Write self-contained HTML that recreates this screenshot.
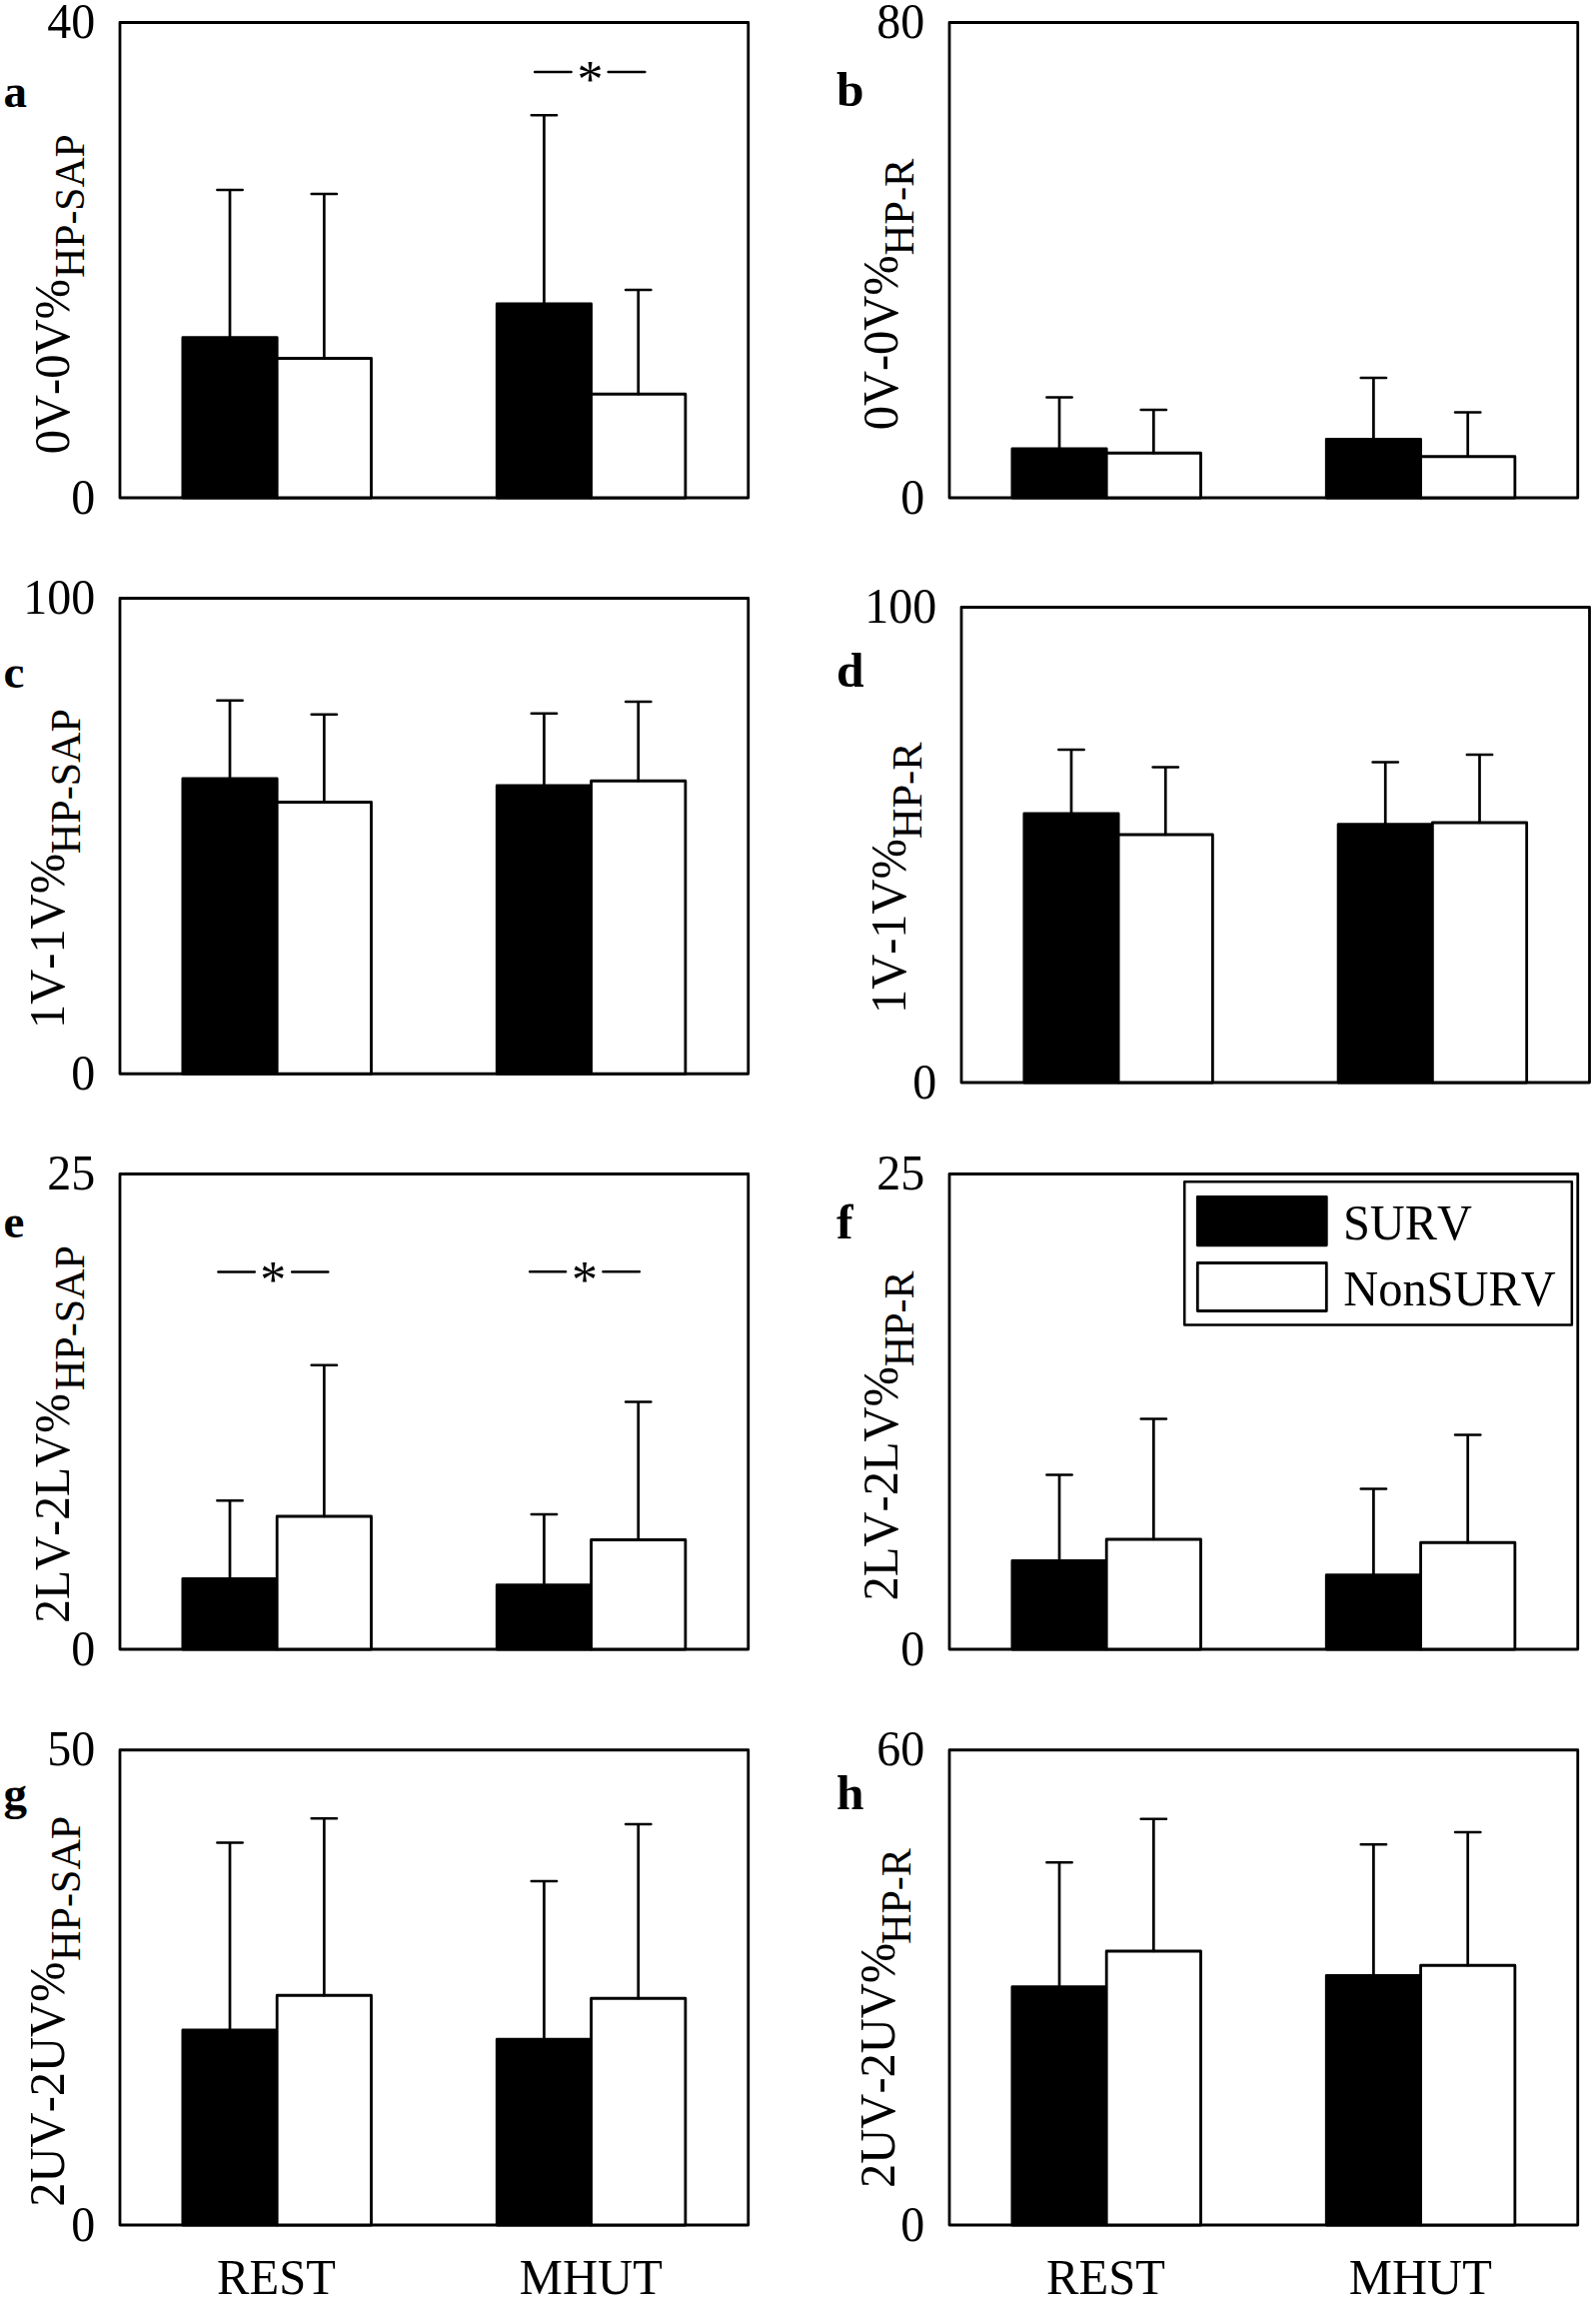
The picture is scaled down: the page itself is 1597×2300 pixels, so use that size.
<!DOCTYPE html>
<html lang="en"><head><meta charset="utf-8"><title>Figure</title>
<style>html,body{margin:0;padding:0;background:#fff}svg{display:block}text{font-family:'Liberation Serif', 'Times New Roman', Times, serif;fill:#000;font-kerning:none;font-variant-ligatures:none}.t{font-size:48px}.b{font-weight:bold}.l{stroke:#000;stroke-width:2.8;fill:none}.lr{stroke:#000;stroke-width:2.7;fill:none;stroke-linecap:round}.k{fill:#000;stroke:#000;stroke-width:2.8;stroke-linejoin:round}.w{fill:#fff;stroke:#000;stroke-width:2.8;stroke-linejoin:round}</style></head><body>
<svg width="1597" height="2300" viewBox="0 0 1597 2300">
<rect x="0" y="0" width="1597" height="2300" fill="#fff"/>
<g id="panel-a">
<rect class="l" x="120" y="22.5" width="628.75" height="475.5" stroke-linejoin="round"/>
<rect class="k" x="182.88" y="337.65" width="94.31" height="160.35"/>
<rect class="w" x="277.19" y="358.5" width="94.31" height="139.5"/>
<path class="lr" d="M230.03 337.65V190M217.43 190H242.63"/>
<path class="lr" d="M324.34 358.5V194M311.74 194H336.94"/>
<rect class="k" x="497.25" y="303.9" width="94.31" height="194.1"/>
<rect class="w" x="591.56" y="394.25" width="94.31" height="103.75"/>
<path class="lr" d="M544.41 303.9V115.25M531.81 115.25H557.01"/>
<path class="lr" d="M638.72 394.25V290M626.12 290H651.32"/>
<text text-anchor="end" font-size="50.2" transform="translate(95.2 37.8) scale(0.956 1)">40</text>
<text text-anchor="end" font-size="50.2" transform="translate(95.2 513.7) scale(0.956 1)">0</text>
<text class="b" font-size="47" x="3.5" y="106.5">a</text>
<text transform="translate(68.9 454.16) rotate(-90) scale(0.97 1)" font-size="50">0V-0V%</text>
<text transform="translate(84.1 277.89) rotate(-90) scale(0.97 1)" font-size="43">HP-SAP</text>
</g>
<g id="panel-b">
<rect class="l" x="950" y="22.5" width="628.75" height="475.5" stroke-linejoin="round"/>
<rect class="k" x="1012.88" y="448.9" width="94.31" height="49.1"/>
<rect class="w" x="1107.19" y="453.25" width="94.31" height="44.75"/>
<path class="lr" d="M1060.03 448.9V397.5M1047.43 397.5H1072.63"/>
<path class="lr" d="M1154.34 453.25V410M1141.74 410H1166.94"/>
<rect class="k" x="1327.25" y="439.4" width="94.31" height="58.6"/>
<rect class="w" x="1421.56" y="456.75" width="94.31" height="41.25"/>
<path class="lr" d="M1374.41 439.4V378M1361.81 378H1387.01"/>
<path class="lr" d="M1468.72 456.75V412.5M1456.12 412.5H1481.32"/>
<text text-anchor="end" font-size="50.2" transform="translate(925.2 37.8) scale(0.956 1)">80</text>
<text text-anchor="end" font-size="50.2" transform="translate(925.2 513.7) scale(0.956 1)">0</text>
<text class="b" font-size="49.5" x="837.1" y="106.25">b</text>
<text transform="translate(898.4 430.36) rotate(-90) scale(0.97 1)" font-size="50">0V-0V%</text>
<text transform="translate(914 255.51) rotate(-90) scale(0.99 1)" font-size="43">HP-R</text>
</g>
<g id="panel-c">
<rect class="l" x="120" y="598.5" width="628.75" height="475.75" stroke-linejoin="round"/>
<rect class="k" x="182.88" y="778.9" width="94.31" height="295.35"/>
<rect class="w" x="277.19" y="802.5" width="94.31" height="271.75"/>
<path class="lr" d="M230.03 778.9V700.75M217.43 700.75H242.63"/>
<path class="lr" d="M324.34 802.5V714.75M311.74 714.75H336.94"/>
<rect class="k" x="497.25" y="785.9" width="94.31" height="288.35"/>
<rect class="w" x="591.56" y="781.25" width="94.31" height="293"/>
<path class="lr" d="M544.41 785.9V713.75M531.81 713.75H557.01"/>
<path class="lr" d="M638.72 781.25V702M626.12 702H651.32"/>
<text text-anchor="end" font-size="50.2" transform="translate(95.2 613.8) scale(0.956 1)">100</text>
<text text-anchor="end" font-size="50.2" transform="translate(95.2 1089.95) scale(0.956 1)">0</text>
<text class="b" font-size="47" x="3.5" y="687.5">c</text>
<text transform="translate(64.3 1029.04) rotate(-90) scale(0.97 1)" font-size="50">1V-1V%</text>
<text transform="translate(80 854.2) rotate(-90) scale(0.98 1)" font-size="43">HP-SAP</text>
</g>
<g id="panel-d">
<rect class="l" x="962" y="607.5" width="628.5" height="475.5" stroke-linejoin="round"/>
<rect class="k" x="1024.85" y="813.9" width="94.27" height="269.1"/>
<rect class="w" x="1119.12" y="835" width="94.27" height="248"/>
<path class="lr" d="M1071.99 813.9V750M1059.39 750H1084.59"/>
<path class="lr" d="M1166.26 835V767.5M1153.66 767.5H1178.86"/>
<rect class="k" x="1339.1" y="824.65" width="94.27" height="258.35"/>
<rect class="w" x="1433.38" y="823" width="94.27" height="260"/>
<path class="lr" d="M1386.24 824.65V762.5M1373.64 762.5H1398.84"/>
<path class="lr" d="M1480.51 823V755M1467.91 755H1493.11"/>
<text text-anchor="end" font-size="50.2" transform="translate(937.2 622.8) scale(0.956 1)">100</text>
<text text-anchor="end" font-size="50.2" transform="translate(937.2 1098.7) scale(0.956 1)">0</text>
<text class="b" font-size="49.5" x="837.1" y="687">d</text>
<text transform="translate(906.3 1014.09) rotate(-90) scale(0.97 1)" font-size="50">1V-1V%</text>
<text transform="translate(922.25 839.31) rotate(-90) scale(0.99 1)" font-size="43">HP-R</text>
</g>
<g id="panel-e">
<rect class="l" x="120" y="1174.5" width="628.75" height="475.5" stroke-linejoin="round"/>
<rect class="k" x="182.88" y="1579.4" width="94.31" height="70.6"/>
<rect class="w" x="277.19" y="1517" width="94.31" height="133"/>
<path class="lr" d="M230.03 1579.4V1501.25M217.43 1501.25H242.63"/>
<path class="lr" d="M324.34 1517V1365.75M311.74 1365.75H336.94"/>
<rect class="k" x="497.25" y="1585.65" width="94.31" height="64.35"/>
<rect class="w" x="591.56" y="1540.5" width="94.31" height="109.5"/>
<path class="lr" d="M544.41 1585.65V1515M531.81 1515H557.01"/>
<path class="lr" d="M638.72 1540.5V1402.5M626.12 1402.5H651.32"/>
<text text-anchor="end" font-size="50.2" transform="translate(95.2 1189.8) scale(0.956 1)">25</text>
<text text-anchor="end" font-size="50.2" transform="translate(95.2 1665.7) scale(0.956 1)">0</text>
<text class="b" font-size="47" x="3.5" y="1238">e</text>
<text transform="translate(68.5 1623.69) rotate(-90) scale(0.95 1)" font-size="50">2LV-2LV%</text>
<text transform="translate(83.75 1391.2) rotate(-90) scale(0.98 1)" font-size="43">HP-SAP</text>
</g>
<g id="panel-f">
<rect class="l" x="950" y="1174.5" width="628.75" height="475.5" stroke-linejoin="round"/>
<rect class="k" x="1012.88" y="1561.4" width="94.31" height="88.6"/>
<rect class="w" x="1107.19" y="1540" width="94.31" height="110"/>
<path class="lr" d="M1060.03 1561.4V1475.5M1047.43 1475.5H1072.63"/>
<path class="lr" d="M1154.34 1540V1419.5M1141.74 1419.5H1166.94"/>
<rect class="k" x="1327.25" y="1575.65" width="94.31" height="74.35"/>
<rect class="w" x="1421.56" y="1543.25" width="94.31" height="106.75"/>
<path class="lr" d="M1374.41 1575.65V1489.5M1361.81 1489.5H1387.01"/>
<path class="lr" d="M1468.72 1543.25V1435.5M1456.12 1435.5H1481.32"/>
<text text-anchor="end" font-size="50.2" transform="translate(925.2 1189.8) scale(0.956 1)">25</text>
<text text-anchor="end" font-size="50.2" transform="translate(925.2 1665.7) scale(0.956 1)">0</text>
<text class="b" font-size="49.5" x="837.1" y="1238.75">f</text>
<text transform="translate(898.2 1601.41) rotate(-90) scale(0.97 1)" font-size="50">2LV-2LV%</text>
<text transform="translate(913.75 1367.3) rotate(-90) scale(0.98 1)" font-size="43">HP-R</text>
</g>
<g id="panel-g">
<rect class="l" x="120" y="1750.75" width="628.75" height="475.25" stroke-linejoin="round"/>
<rect class="k" x="182.88" y="2030.9" width="94.31" height="195.1"/>
<rect class="w" x="277.19" y="1996.25" width="94.31" height="229.75"/>
<path class="lr" d="M230.03 2030.9V1843.5M217.43 1843.5H242.63"/>
<path class="lr" d="M324.34 1996.25V1819.25M311.74 1819.25H336.94"/>
<rect class="k" x="497.25" y="2040.15" width="94.31" height="185.85"/>
<rect class="w" x="591.56" y="1999.25" width="94.31" height="226.75"/>
<path class="lr" d="M544.41 2040.15V1882M531.81 1882H557.01"/>
<path class="lr" d="M638.72 1999.25V1825M626.12 1825H651.32"/>
<text text-anchor="end" font-size="50.2" transform="translate(95.2 1766.05) scale(0.956 1)">50</text>
<text text-anchor="end" font-size="50.2" transform="translate(95.2 2241.7) scale(0.956 1)">0</text>
<text class="b" font-size="47" x="3.5" y="1810">g</text>
<text transform="translate(64 2207.66) rotate(-90) scale(0.97 1)" font-size="50">2UV-2UV%</text>
<text transform="translate(80 1961.9) rotate(-90) scale(0.98 1)" font-size="43">HP-SAP</text>
<text text-anchor="middle" font-size="50" transform="translate(276.49 2294.5) scale(0.972 1)">REST</text>
<text text-anchor="middle" font-size="50" transform="translate(591.36 2294.5) scale(0.972 1)">MHUT</text>
</g>
<g id="panel-h">
<rect class="l" x="950" y="1750.75" width="628.75" height="475.25" stroke-linejoin="round"/>
<rect class="k" x="1012.88" y="1987.65" width="94.31" height="238.35"/>
<rect class="w" x="1107.19" y="1952" width="94.31" height="274"/>
<path class="lr" d="M1060.03 1987.65V1863.25M1047.43 1863.25H1072.63"/>
<path class="lr" d="M1154.34 1952V1819.75M1141.74 1819.75H1166.94"/>
<rect class="k" x="1327.25" y="1976.4" width="94.31" height="249.6"/>
<rect class="w" x="1421.56" y="1966.25" width="94.31" height="259.75"/>
<path class="lr" d="M1374.41 1976.4V1845.25M1361.81 1845.25H1387.01"/>
<path class="lr" d="M1468.72 1966.25V1833M1456.12 1833H1481.32"/>
<text text-anchor="end" font-size="50.2" transform="translate(925.2 1766.05) scale(0.956 1)">60</text>
<text text-anchor="end" font-size="50.2" transform="translate(925.2 2241.7) scale(0.956 1)">0</text>
<text class="b" font-size="49.5" x="837.1" y="1810">h</text>
<text transform="translate(895.25 2188.91) rotate(-90) scale(0.97 1)" font-size="50">2UV-2UV%</text>
<text transform="translate(911 1945.05) rotate(-90) scale(0.98 1)" font-size="43">HP-R</text>
<text text-anchor="middle" font-size="50" transform="translate(1106.49 2294.5) scale(0.972 1)">REST</text>
<text text-anchor="middle" font-size="50" transform="translate(1421.36 2294.5) scale(0.972 1)">MHUT</text>
</g>
<g id="sig">
<path class="lr" d="M535.25 72H571.5M608.75 72H645.25"/>
<text font-size="52" text-anchor="middle" x="590.5" y="97.4">*</text>
<path class="lr" d="M218.5 1272.5H254.75M292.25 1272.5H328.25"/>
<text font-size="52" text-anchor="middle" x="273.25" y="1297.9">*</text>
<path class="lr" d="M530.25 1272.25H566M603.5 1272.25H639.75"/>
<text font-size="52" text-anchor="middle" x="585" y="1297.65">*</text>
</g>
<g id="legend">
<rect class="w" style="stroke-width:2.5" x="1185.25" y="1182.3" width="387.6" height="143.2"/>
<rect class="k" x="1198.3" y="1197.3" width="129" height="48.5"/>
<rect class="w" x="1198.3" y="1263.5" width="129" height="48"/>
<text font-size="50" transform="translate(1343.9 1239.6) scale(0.968 1)">SURV</text>
<text font-size="50" transform="translate(1344.3 1305.8) scale(0.968 1)">NonSURV</text>
</g>
</svg></body></html>
